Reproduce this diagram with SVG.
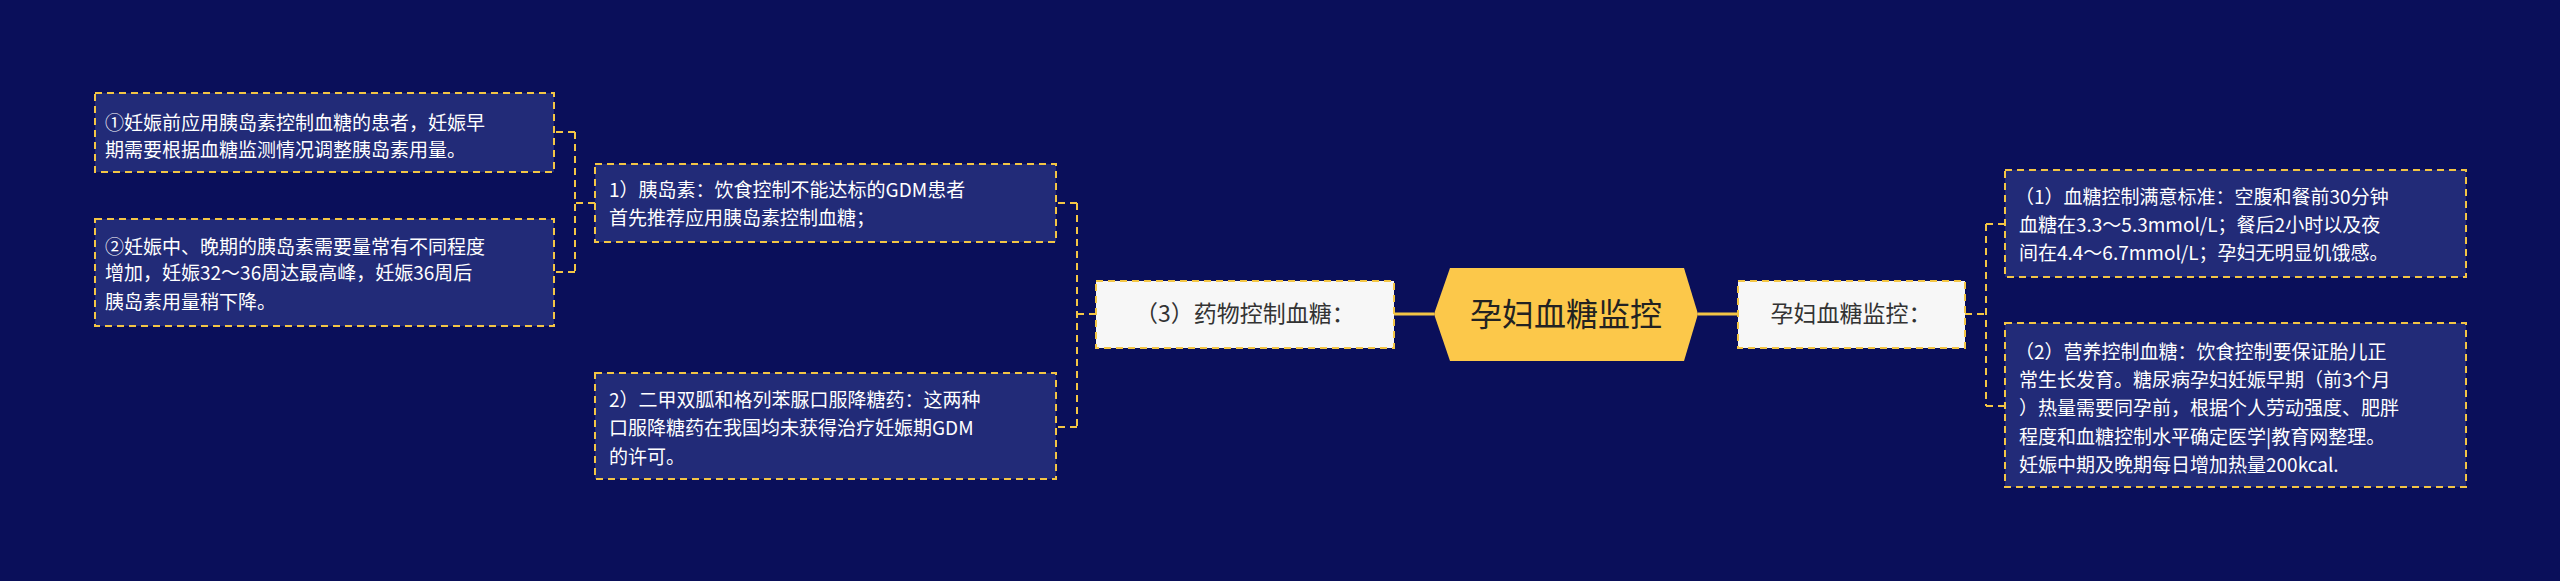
<svg xmlns="http://www.w3.org/2000/svg" width="2560" height="581" viewBox="0 0 2560 581">
<style>
.bg{fill:#0a0f5a}
.box{fill:#222b78;stroke:#f3c545;stroke-width:2;stroke-dasharray:7,5}
.wbox{fill:#f7f7f7;stroke:#f3c545;stroke-width:2;stroke-dasharray:7,5}
.t{font-family:"Noto Sans CJK SC","Noto Sans",sans-serif;font-size:19px;fill:#ffffff}
.d{font-family:"Noto Sans CJK SC","Noto Sans",sans-serif;font-size:23px;fill:#333333}
.c{stroke:#f3c545;stroke-width:2;fill:none;stroke-dasharray:7,5}
.cs{stroke:#f3c545;stroke-width:3;fill:none}
</style>
<rect class="bg" width="2560" height="581"/>
<g id="connectors">
<path class="cs" d="M1394 314H1434M1698 314H1738"/>
<path class="c" d="M1096 314H1077M1077 203V427M1077 203H1056M1077 427H1056"/>
<path class="c" d="M595 203H575M575 132V272M575 132H554M575 272H554"/>
<path class="c" d="M1965 314H1986M1986 224V406M1986 224H2005M1986 406H2005"/>
</g>
<g id="root"><polygon points="1450,268 1684,268 1698,314 1684,361 1450,361 1434,314" fill="#fcc84a"/>
<text x="1566" y="326" text-anchor="middle" font-family="Noto Sans CJK SC,sans-serif" font-size="32" fill="#222">孕妇血糖监控</text></g>
<g id="n-drug"><rect class="wbox" x="1096" y="281" width="298" height="67"/><text class="d" x="1245" y="322" text-anchor="middle">（3）药物控制血糖：</text></g>
<g id="n-monitor"><rect class="wbox" x="1738" y="281" width="227" height="67"/><text class="d" x="1851" y="322" text-anchor="middle">孕妇血糖监控：</text></g>
<g id="n-ins"><rect class="box" x="595" y="164" width="461" height="78"/><text class="t" x="609" y="197">1）胰岛素：饮食控制不能达标的GDM患者</text><text class="t" x="609" y="225">首先推荐应用胰岛素控制血糖；</text></g>
<g id="n-oral"><rect class="box" x="595" y="373" width="461" height="106"/><text class="t" x="609" y="407">2）二甲双胍和格列苯脲口服降糖药：这两种</text><text class="t" x="609" y="435">口服降糖药在我国均未获得治疗妊娠期GDM</text><text class="t" x="609" y="464">的许可。</text></g>
<g id="n-i1"><rect class="box" x="95" y="93" width="459" height="79"/><text class="t" x="105" y="130">①妊娠前应用胰岛素控制血糖的患者，妊娠早</text><text class="t" x="105" y="157">期需要根据血糖监测情况调整胰岛素用量。</text></g>
<g id="n-i2"><rect class="box" x="95" y="219" width="459" height="107"/><text class="t" x="105" y="254">②妊娠中、晚期的胰岛素需要量常有不同程度</text><text class="t" x="105" y="280">增加，妊娠32～36周达最高峰，妊娠36周后</text><text class="t" x="105" y="309">胰岛素用量稍下降。</text></g>
<g id="n-r1"><rect class="box" x="2005" y="170" width="461" height="107"/><text class="t" x="2015" y="204">（1）血糖控制满意标准：空腹和餐前30分钟</text><text class="t" x="2019" y="232">血糖在3.3～5.3mmol/L；餐后2小时以及夜</text><text class="t" x="2019" y="260">间在4.4～6.7mmol/L；孕妇无明显饥饿感。</text></g>
<g id="n-r2"><rect class="box" x="2005" y="323" width="461" height="164"/><text class="t" x="2015" y="359">（2）营养控制血糖：饮食控制要保证胎儿正</text><text class="t" x="2019" y="387">常生长发育。糖尿病孕妇妊娠早期（前3个月</text><text class="t" x="2019" y="415">）热量需要同孕前，根据个人劳动强度、肥胖</text><text class="t" x="2019" y="444">程度和血糖控制水平确定医学|教育网整理。</text><text class="t" x="2019" y="472">妊娠中期及晚期每日增加热量200kcal.</text></g>
</svg>
